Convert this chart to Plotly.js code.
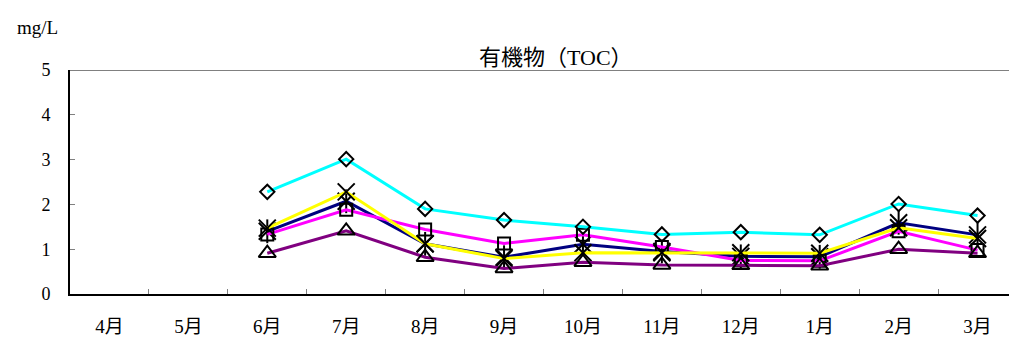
<!DOCTYPE html>
<html>
<head>
<meta charset="utf-8">
<script src="https://cdn.plot.ly/plotly-3.0.1.min.js"></script>
<style>html,body{margin:0;padding:0;background:#fff;overflow:hidden}</style>
</head>
<body>
<div id="chart" style="width:1017px;height:350px"></div>
<script>
const months = ['4月','5月','6月','7月','8月','9月','10月','11月','12月','1月','2月','3月'];
const cyanVals    = [null,null,2.28,3.01,1.90,1.65,1.50,1.33,1.38,1.32,2.01,1.75];
const magentaVals = [null,null,1.33,1.88,1.44,1.13,1.32,1.05,0.75,0.74,1.40,0.98];
const purpleVals  = [null,null,0.91,1.41,0.82,0.57,0.71,0.65,0.64,0.63,1.00,0.91];
const navyVals    = [null,null,1.40,2.07,1.12,0.82,1.11,0.95,0.84,0.83,1.59,1.32];
const yellowVals  = [null,null,1.47,2.28,1.12,0.79,0.92,0.92,0.92,0.91,1.48,1.24];
const yTicks = [0,1,2,3,4,5];

const FONT = 'Liberation Serif, Times New Roman, Noto Sans CJK JP, serif';

function series(y, color, symbol, size, mode) {
  return {
    x: months, y: y, type: 'scatter', mode: mode || 'lines+markers',
    line: {color: color, width: 3},
    marker: {symbol: symbol, size: size, color: '#000',
             line: {color: '#000', width: 2}},
    connectgaps: false, showlegend: false, hoverinfo: 'skip'
  };
}

const data = [
  series(navyVals, '#000080', 'x-thin-open', 17),
  series(navyVals, '#000080', 'line-ns-open', 17, 'markers'),
  series(magentaVals, '#FF00FF', 'square-open', 12),
  series(yellowVals, '#FFFF00', 'x-thin-open', 17),
  series(cyanVals, '#00FFFF', 'diamond-open', 11),
  series(purpleVals, '#800080', 'triangle-up-open', 15)
];

const layout = {
  width: 1017, height: 350,
  margin: {l: 70, r: 0, t: 70, b: 56},
  paper_bgcolor: '#fff', plot_bgcolor: '#fff',
  font: {family: FONT, size: 17, color: '#000'},
  title: {text: '有機物（TOC）', font: {family: FONT, size: 22, color: '#000'},
          xref: 'paper', x: 0.513, xanchor: 'center',
          yref: 'container', y: 0.835, yanchor: 'middle'},
  xaxis: {
    type: 'category', categoryorder: 'array', categoryarray: months,
    range: [-0.5, 11.5], tickson: 'boundaries', mirror: false,
    ticks: 'inside', ticklen: 5, tickwidth: 1, tickcolor: '#808080',
    showline: true, linecolor: '#000', linewidth: 2,
    showgrid: false, zeroline: false, fixedrange: true,
    tickfont: {family: FONT, size: 19, color: '#000'},
    ticklabelstandoff: 14
  },
  yaxis: {
    range: [0, 5], tickvals: yTicks, ticktext: yTicks.map(String), mirror: false,
    ticks: 'inside', ticklen: 5, tickwidth: 1, tickcolor: '#808080',
    showline: true, linecolor: '#000', linewidth: 2,
    showgrid: false, zeroline: false, fixedrange: true,
    tickfont: {family: FONT, size: 18, color: '#000'},
    ticklabelstandoff: 14
  },
  shapes: [{type: 'line', xref: 'paper', yref: 'y', x0: 0, x1: 1, y0: 5, y1: 5,
            line: {color: '#808080', width: 2}, layer: 'below'}],
  annotations: [{text: 'mg/L', xref: 'paper', yref: 'paper',
                 x: -0.034, y: 1.19, xanchor: 'center', yanchor: 'middle',
                 showarrow: false, font: {family: FONT, size: 19, color: '#000'}}]
};

Plotly.newPlot('chart', data, layout, {displayModeBar: false, staticPlot: true});
</script>
</body>
</html>
